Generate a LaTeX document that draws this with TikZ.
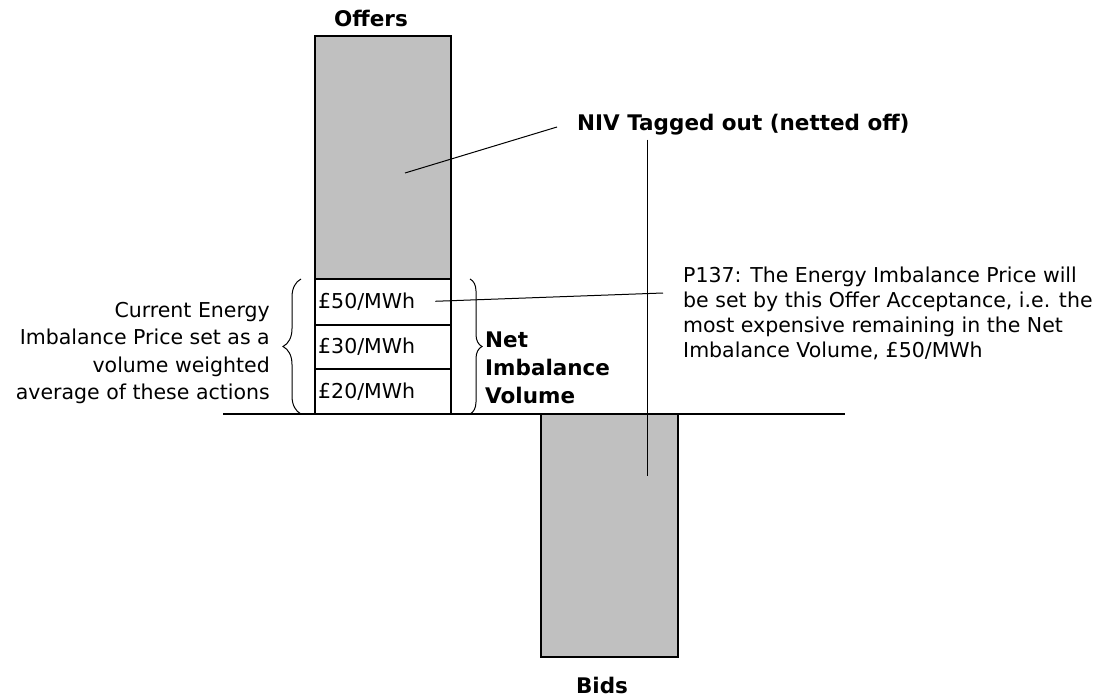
\documentclass[tikz,border=0pt]{standalone}
\usepackage{fontspec}
\setmainfont{DejaVu Sans}
\usetikzlibrary{decorations.pathreplacing}

\definecolor{bargray}{RGB}{192,192,192}

\begin{document}
\begin{tikzpicture}[x=1pt,y=-1pt,
		bar/.style={draw,fill=bargray,line width=1.3pt},
		cell/.style={draw,fill=white,line width=1.3pt},
		lbl/.style={inner sep=0pt,font=\fontsize{20.5}{25}\selectfont},
		head/.style={inner sep=0pt,font=\fontsize{21.5}{28}\selectfont\bfseries},
		price/.style={lbl,anchor=west},
		pointer/.style={line width=1pt},
		brace/.style={decorate,decoration={brace,amplitude=#1},line width=1pt},
		brace/.default=12pt]
		
	\useasboundingbox (0,0) rectangle (1109,696);
		
	%offers and bids
	\draw[bar] (315,36) rectangle (451,279);
	\draw[bar] (541,414) rectangle (678,657);
	\node[head] (offers) at (371,18) {Offers};
	\node[head] (bids) at (602,685) {Bids};
	
	%accepted offers in the NIV
	\foreach \top/\bot/\p/\name in {279/325/50/fifty,325/369/30/thirty,369/414/20/twenty}
	{
		\draw[cell] (315,\top) rectangle (451,\bot);
		\node[price] (\name) at (318,{(\top+\bot)/2}) {£\p/MWh};
	}
	\draw[line width=2.6pt] (315,325) -- (451,325);
	
	%zero line
	\draw[line width=1.3pt] (223,414) -- (845,414);
	
	%braces
	\draw[brace=18pt] (301,414) -- (301,279);
	\draw[brace] (470,279) -- (470,414);
	
	\node[lbl,anchor=east,align=right,font=\fontsize{20.5}{27.3}\selectfont] (vwa) at (270,353)
		{Current Energy\\Imbalance Price set as a\\volume weighted\\average of these actions};
	\node[head,anchor=west,align=left] (niv) at (485,368) {Net\\Imbalance\\Volume};
	
	%notes
	\node[head,anchor=west] (tagged) at (577,125) {NIV Tagged out (netted off)};
	\node[lbl,anchor=west,align=left] (p137) at (683,313)
		{P137: The Energy Imbalance Price will\\be set by this Offer Acceptance, i.e. the\\most expensive remaining in the Net\\Imbalance Volume, £50/MWh};
	
	\coordinate (inoffers) at (405,173);
	\coordinate (inbids) at (647,476);
	\coordinate (taggedend) at (557,127);
	\coordinate (p137end) at (663,293);
	\draw[pointer] (inoffers) -- (taggedend);
	\draw[pointer,shorten <=4pt] (tagged.south -| inbids) -- (inbids);
	\draw[pointer,shorten <=20pt] (fifty.east) -- (p137end);
	
\end{tikzpicture}
\end{document}
